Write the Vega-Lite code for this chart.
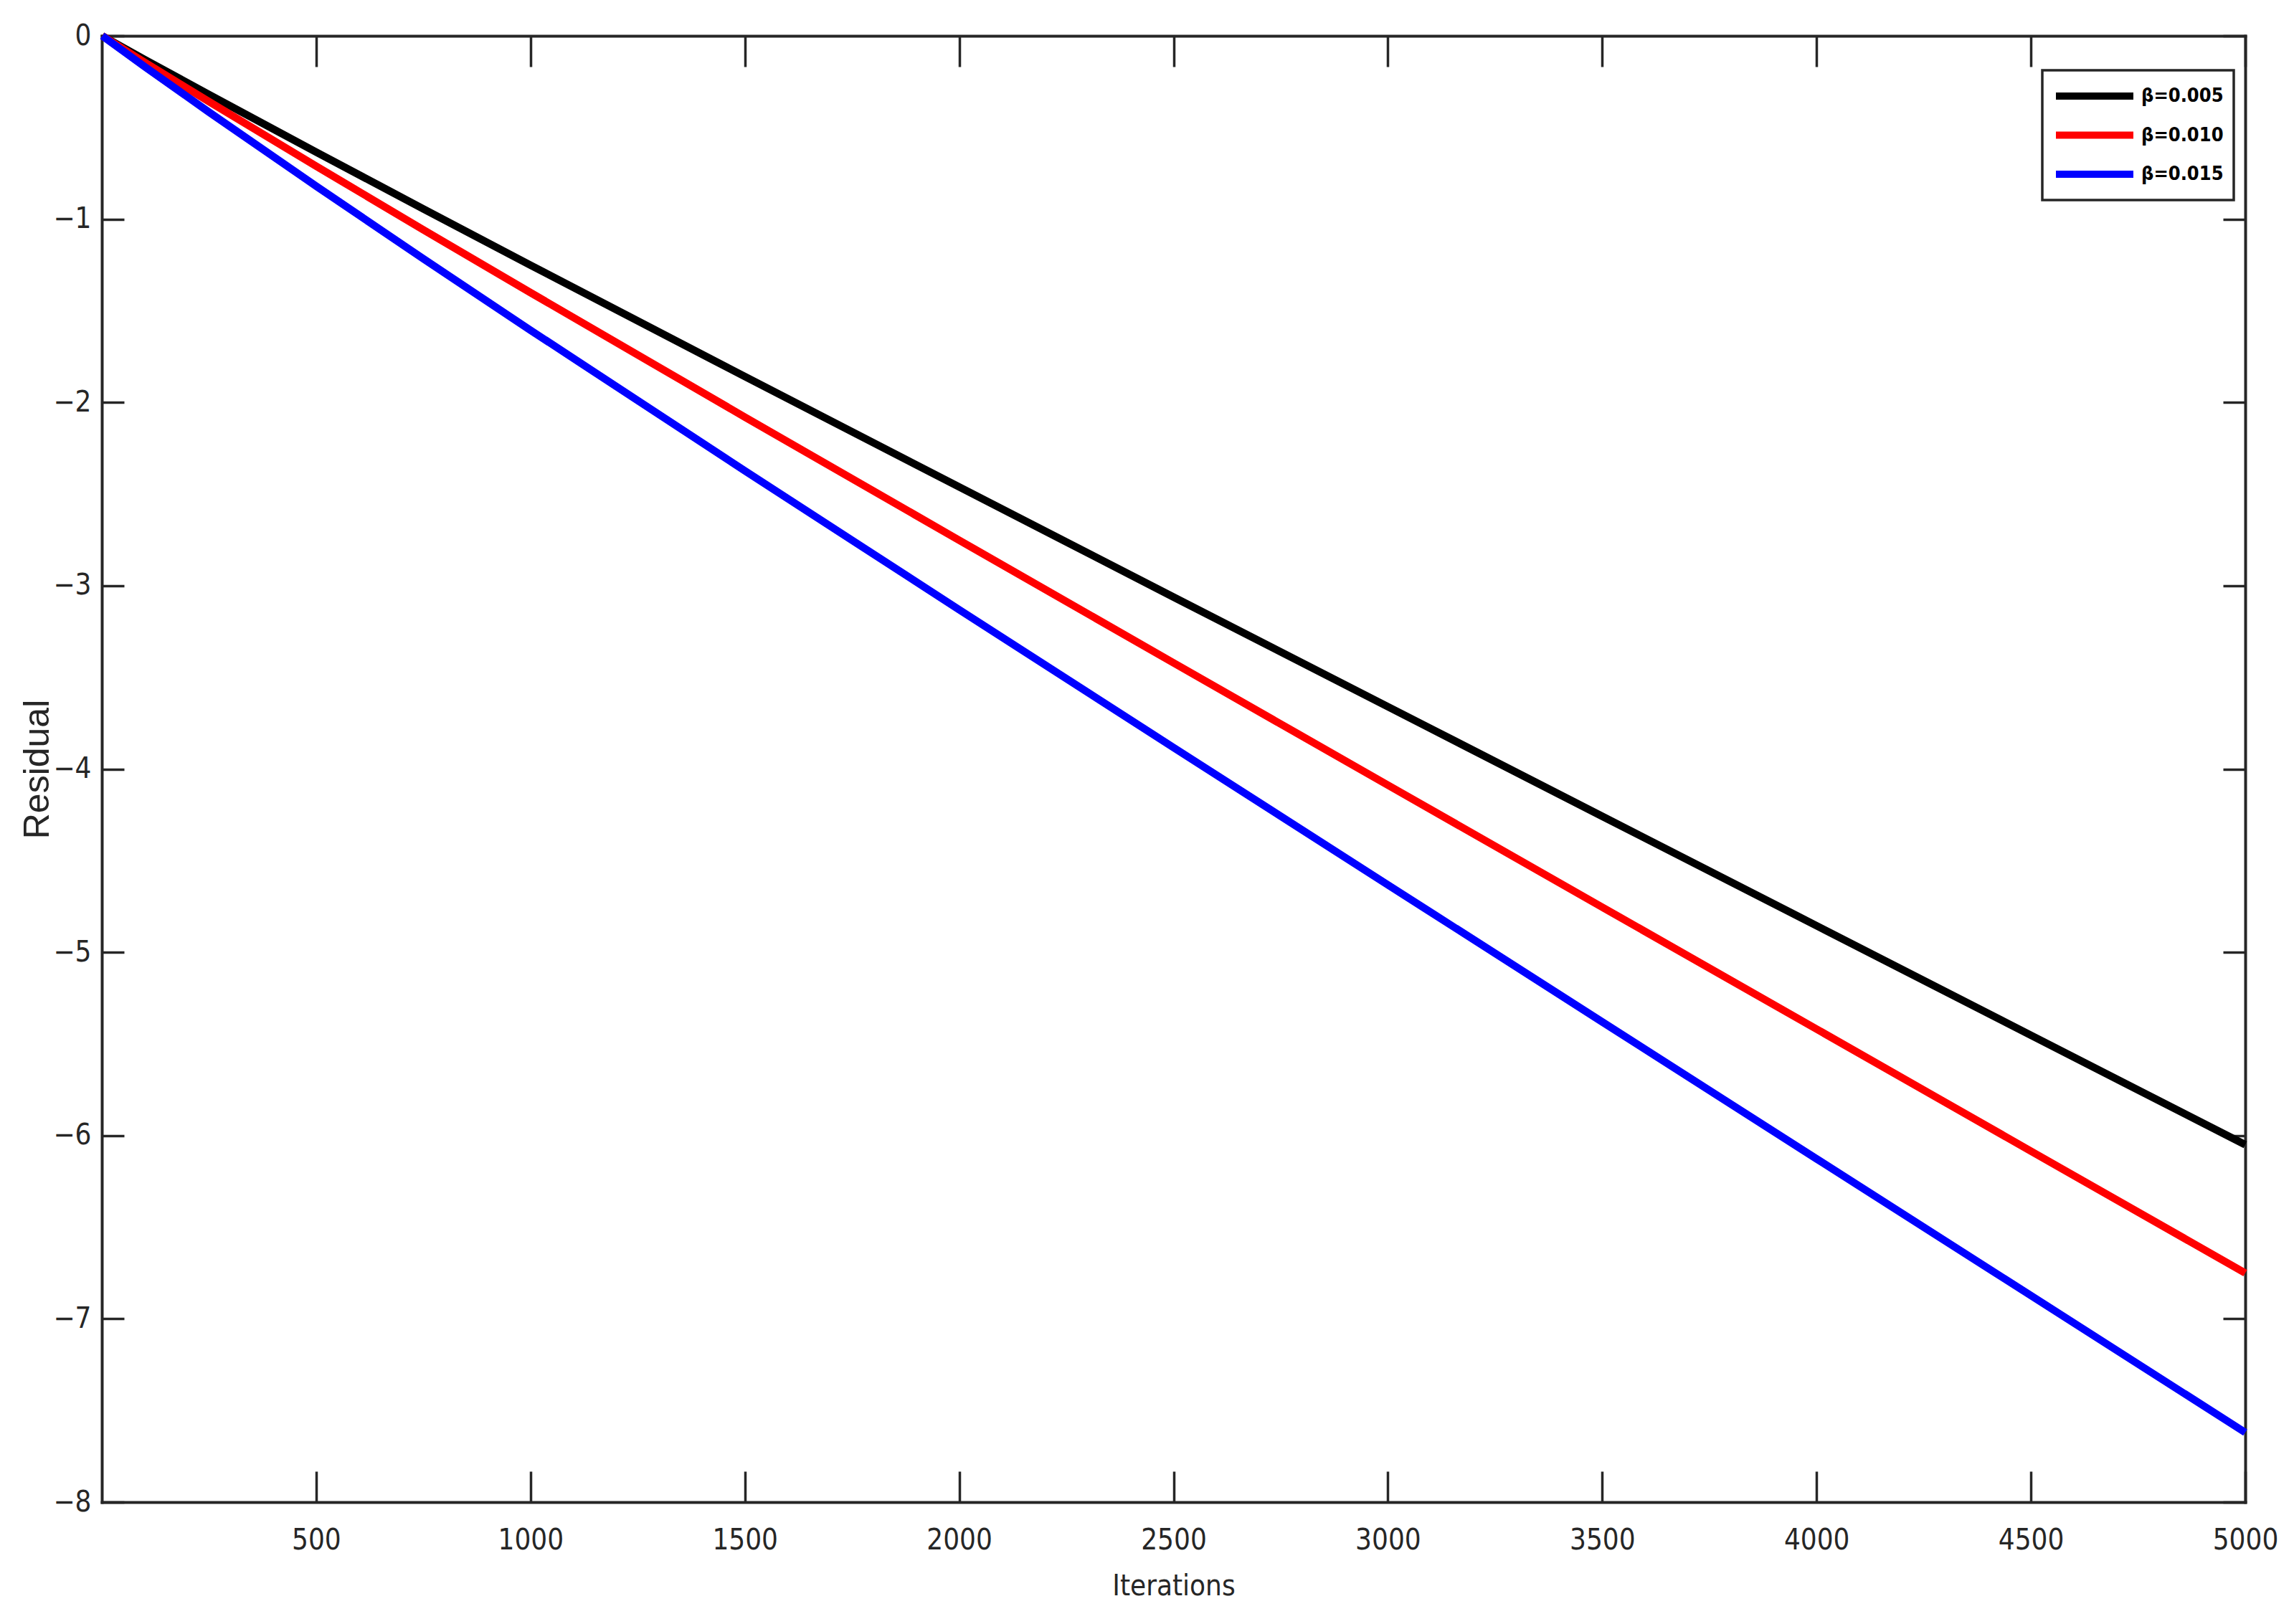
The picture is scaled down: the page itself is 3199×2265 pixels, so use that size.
{
  "$schema": "https://vega.github.io/schema/vega-lite/v6.json",
  "autosize": "none",
  "width": 2989,
  "height": 2045,
  "padding": {"left": 142, "top": 50, "right": 68, "bottom": 170},
  "background": "white",
  "config": {
    "view": {"stroke": null},
    "axis": {"grid": false, "domainColor": "#262626", "tickColor": "#262626", "labelColor": "#262626", "titleColor": "#262626", "domainWidth": 4, "tickWidth": 3.5, "labelFont": "Liberation Sans Narrow, DejaVu Sans Condensed, Liberation Sans", "titleFont": "Liberation Sans Narrow, DejaVu Sans Condensed, Liberation Sans", "titleFontWeight": "normal", "domainCap": "square"}
  },
  "data": {"values": [
    {"it": 1, "r": 0, "beta": "β=0.005"},
    {"it": 100, "r": -0.129, "beta": "β=0.005"},
    {"it": 250, "r": -0.32, "beta": "β=0.005"},
    {"it": 500, "r": -0.634, "beta": "β=0.005"},
    {"it": 750, "r": -0.944, "beta": "β=0.005"},
    {"it": 1000, "r": -1.251, "beta": "β=0.005"},
    {"it": 1500, "r": -1.859, "beta": "β=0.005"},
    {"it": 2000, "r": -2.461, "beta": "β=0.005"},
    {"it": 2500, "r": -3.062, "beta": "β=0.005"},
    {"it": 3000, "r": -3.66, "beta": "β=0.005"},
    {"it": 3500, "r": -4.258, "beta": "β=0.005"},
    {"it": 4000, "r": -4.855, "beta": "β=0.005"},
    {"it": 4500, "r": -5.453, "beta": "β=0.005"},
    {"it": 5000, "r": -6.05, "beta": "β=0.005"},
    {"it": 1, "r": 0, "beta": "β=0.010"},
    {"it": 100, "r": -0.145, "beta": "β=0.010"},
    {"it": 250, "r": -0.359, "beta": "β=0.010"},
    {"it": 500, "r": -0.711, "beta": "β=0.010"},
    {"it": 750, "r": -1.058, "beta": "β=0.010"},
    {"it": 1000, "r": -1.401, "beta": "β=0.010"},
    {"it": 1500, "r": -2.08, "beta": "β=0.010"},
    {"it": 2000, "r": -2.752, "beta": "β=0.010"},
    {"it": 2500, "r": -3.421, "beta": "β=0.010"},
    {"it": 3000, "r": -4.088, "beta": "β=0.010"},
    {"it": 3500, "r": -4.754, "beta": "β=0.010"},
    {"it": 4000, "r": -5.419, "beta": "β=0.010"},
    {"it": 4500, "r": -6.085, "beta": "β=0.010"},
    {"it": 5000, "r": -6.75, "beta": "β=0.010"},
    {"it": 1, "r": 0, "beta": "β=0.015"},
    {"it": 100, "r": -0.168, "beta": "β=0.015"},
    {"it": 250, "r": -0.416, "beta": "β=0.015"},
    {"it": 500, "r": -0.82, "beta": "β=0.015"},
    {"it": 750, "r": -1.216, "beta": "β=0.015"},
    {"it": 1000, "r": -1.606, "beta": "β=0.015"},
    {"it": 1500, "r": -2.373, "beta": "β=0.015"},
    {"it": 2000, "r": -3.131, "beta": "β=0.015"},
    {"it": 2500, "r": -3.883, "beta": "β=0.015"},
    {"it": 3000, "r": -4.632, "beta": "β=0.015"},
    {"it": 3500, "r": -5.38, "beta": "β=0.015"},
    {"it": 4000, "r": -6.127, "beta": "β=0.015"},
    {"it": 4500, "r": -6.873, "beta": "β=0.015"},
    {"it": 5000, "r": -7.62, "beta": "β=0.015"}
  ]},
  "resolve": {"axis": {"x": "independent", "y": "independent"}},
  "layer": [
    {
      "mark": {"type": "line", "strokeWidth": 10.5, "strokeCap": "butt", "strokeJoin": "round"},
      "encoding": {
        "x": {"field": "it", "type": "quantitative", "scale": {"domain": [0, 5000], "nice": false, "zero": false},
          "axis": {"orient": "bottom", "values": [500, 1000, 1500, 2000, 2500, 3000, 3500, 4000, 4500, 5000], "format": "d", "tickSize": -43, "labelPadding": 76, "labelFontSize": 40, "title": "Iterations", "titleFontSize": 40, "titleX": 1494.5, "titleY": 117, "titleBaseline": "middle", "titleAlign": "center", "labelFlush": false, "labelOverlap": false}},
        "y": {"field": "r", "type": "quantitative", "scale": {"domain": [-8, 0], "nice": false, "zero": false},
          "axis": {"orient": "left", "values": [0, -1, -2, -3, -4, -5, -6, -7, -8], "format": "d", "tickSize": -31, "labelPadding": 46, "labelFontSize": 40, "title": "Residual", "titleFont": "Liberation Sans", "titleFontSize": 50, "titleAngle": 270, "titleX": -90, "titleY": 1022.5, "titleBaseline": "middle", "titleAlign": "center", "labelFlush": false, "labelOverlap": false}},
        "color": {"field": "beta", "type": "nominal",
          "scale": {"domain": ["β=0.005", "β=0.010", "β=0.015"], "range": ["#000000", "#ff0000", "#0000ff"]},
          "legend": {"title": null, "orient": "none", "legendX": 2706, "legendY": 48, "symbolType": "stroke", "symbolSize": 11664, "symbolStrokeWidth": 10, "clipHeight": 44, "rowPadding": 10.5, "padding": 14, "labelOffset": 6, "labelFontSize": 27, "labelFontWeight": "bold", "labelColor": "#000000", "labelFont": "Liberation Sans Narrow, DejaVu Sans Condensed, Liberation Sans", "strokeColor": "#262626", "fillColor": "white",
            "encode": {"legend": {"update": {"strokeWidth": {"value": 3.5}}}}}}
      }
    },
    {
      "mark": {"type": "line", "opacity": 0},
      "encoding": {
        "x": {"field": "it", "type": "quantitative", "scale": {"domain": [0, 5000], "nice": false, "zero": false},
          "axis": {"orient": "top", "values": [500, 1000, 1500, 2000, 2500, 3000, 3500, 4000, 4500, 5000], "tickSize": -43, "labels": false, "title": null}},
        "y": {"field": "r", "type": "quantitative", "scale": {"domain": [-8, 0], "nice": false, "zero": false},
          "axis": {"orient": "right", "values": [0, -1, -2, -3, -4, -5, -6, -7, -8], "tickSize": -31, "labels": false, "title": null}},
        "detail": {"field": "beta", "type": "nominal"}
      }
    }
  ]
}
